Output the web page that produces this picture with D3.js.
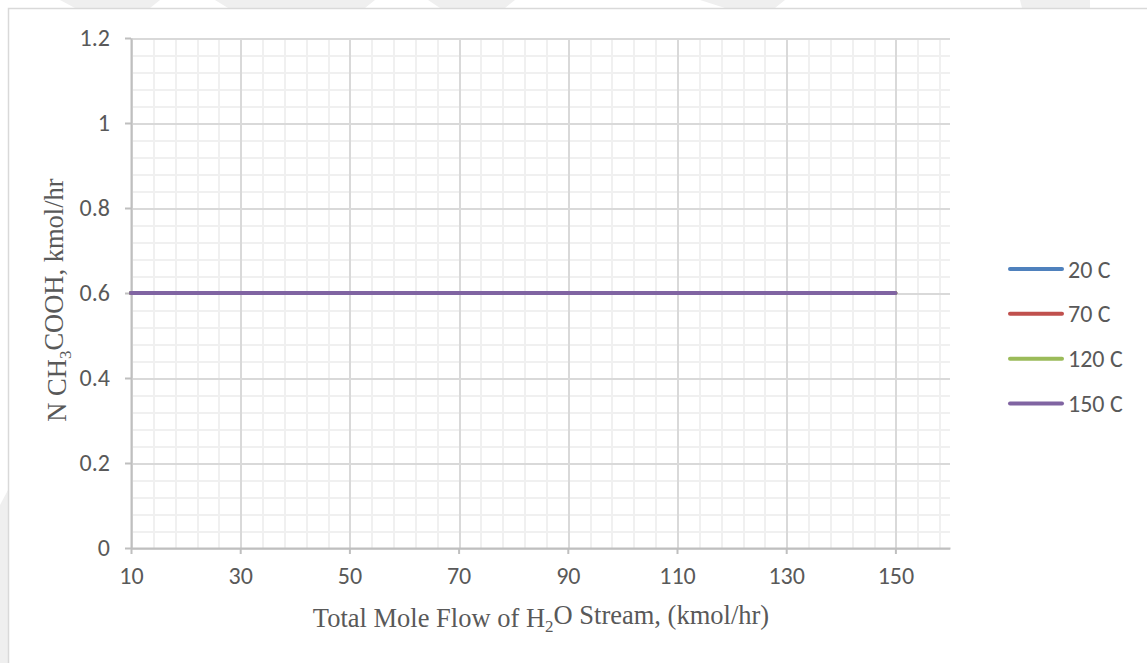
<!DOCTYPE html>
<html>
<head>
<meta charset="utf-8">
<script src="https://cdn.jsdelivr.net/npm/d3@7"></script>
<style>
  html, body { margin: 0; padding: 0; background: #fff; }
  svg { display: block; }
</style>
</head>
<body>
<svg id="chart" width="1147" height="663"></svg>
<script>
// Mole flow of the H2O stream (kmol/hr)
const flowH2O = [10, 30, 50, 70, 90, 110, 130, 150];
// Acetic acid flow (kmol/hr) for each stream temperature
const acid20C  = [0.6, 0.6, 0.6, 0.6, 0.6, 0.6, 0.6, 0.6];
const acid70C  = [0.6, 0.6, 0.6, 0.6, 0.6, 0.6, 0.6, 0.6];
const acid120C = [0.6, 0.6, 0.6, 0.6, 0.6, 0.6, 0.6, 0.6];
const acid150C = [0.6, 0.6, 0.6, 0.6, 0.6, 0.6, 0.6, 0.6];
const seriesNames = ["20 C", "70 C", "120 C", "150 C"];
const xTickValues = [10, 30, 50, 70, 90, 110, 130, 150];
const yTickValues = [0, 0.2, 0.4, 0.6, 0.8, 1, 1.2];

const series = [
  { name: seriesNames[0], values: acid20C,  color: "#4F81BD" },
  { name: seriesNames[1], values: acid70C,  color: "#C0504D" },
  { name: seriesNames[2], values: acid120C, color: "#9BBB59" },
  { name: seriesNames[3], values: acid150C, color: "#8064A2" }
];

const svg = d3.select("#chart");
const tickFont = "Calibri, Carlito, 'Open Sans', sans-serif";
const titleFont = "'Times New Roman', 'Liberation Serif', serif";
const textColor = "#595959";
const tickSize = "24px";

// faint background watermark bands
const wm = svg.append("g").attr("fill", "#efefef");
[
  [[60,0],[160,0],[150,8],[75,8]],
  [[215,0],[375,0],[365,8],[228,8]],
  [[428,0],[515,0],[505,8],[440,8]],
  [[700,0],[785,0],[775,8],[725,8]],
  [[1020,0],[1090,0],[1090,8],[1022,8]]
].forEach(p => wm.append("polygon").attr("points", p.map(q => q.join(",")).join(" ")));
wm.append("polygon").attr("points", "0,505 8,490 8,663 0,663");

// chart frame
svg.append("path")
  .attr("d", "M8.5,663 L8.5,8.5 L1147,8.5")
  .attr("fill", "none").attr("stroke", "#d9d9d9").attr("stroke-width", 1.5);

const plot = { left: 131, top: 38, right: 950, bottom: 548 };

const x = d3.scaleLinear().domain([10, 160]).range([plot.left, plot.right]);
const y = d3.scaleLinear().domain([0, 1.2]).range([plot.bottom, plot.top]);

const grid = svg.append("g").attr("shape-rendering", "crispEdges");

// minor gridlines
const xMinor = d3.range(10, 160.001, 4);
const yMinor = d3.range(0, 1.2001, 0.04);
grid.selectAll(".xmin").data(xMinor).join("line")
  .attr("x1", d => Math.round(x(d)) + 0.5).attr("x2", d => Math.round(x(d)) + 0.5)
  .attr("y1", plot.top).attr("y2", plot.bottom)
  .attr("stroke", "#f0f0f0").attr("stroke-width", 2);
grid.selectAll(".ymin").data(yMinor).join("line")
  .attr("y1", d => Math.round(y(d)) + 0.5).attr("y2", d => Math.round(y(d)) + 0.5)
  .attr("x1", plot.left).attr("x2", plot.right)
  .attr("stroke", "#f0f0f0").attr("stroke-width", 2);

// major gridlines
grid.selectAll(".xmaj").data(xTickValues).join("line")
  .attr("x1", d => Math.round(x(d)) + 0.5).attr("x2", d => Math.round(x(d)) + 0.5)
  .attr("y1", plot.top).attr("y2", plot.bottom)
  .attr("stroke", "#d9d9d9").attr("stroke-width", 2);
grid.selectAll(".ymaj").data(yTickValues).join("line")
  .attr("y1", d => Math.round(y(d)) + 0.5).attr("y2", d => Math.round(y(d)) + 0.5)
  .attr("x1", plot.left).attr("x2", plot.right)
  .attr("stroke", "#d9d9d9").attr("stroke-width", 2);

// axes
const xAxis = d3.axisBottom(x).tickValues(xTickValues).tickSize(6).tickSizeOuter(0).tickPadding(13)
  .tickFormat(d3.format("d"));
const yAxis = d3.axisLeft(y).tickValues(yTickValues).tickSize(6).tickSizeOuter(0).tickPadding(15)
  .tickFormat(d => d === 0 ? "0" : d3.format("~g")(d));

const gx = svg.append("g").attr("transform", `translate(0,${plot.bottom})`).call(xAxis);
const gy = svg.append("g").attr("transform", `translate(${plot.left},0)`).call(yAxis);
[gx, gy].forEach(g => {
  g.select(".domain").attr("stroke", "#bfbfbf").attr("stroke-width", 2);
  g.selectAll(".tick line").attr("stroke", "#bfbfbf").attr("stroke-width", 2);
  g.selectAll(".tick text").attr("fill", textColor)
    .style("font-family", tickFont).style("font-size", tickSize);
});
gx.selectAll(".tick text").attr("dy", "0.72em");

// series lines
const line = d3.line().x((d, i) => x(flowH2O[i])).y(d => y(d));
svg.append("g").selectAll("path").data(series).join("path")
  .attr("d", s => line(s.values))
  .attr("fill", "none").attr("stroke", s => s.color)
  .attr("stroke-width", 4).attr("stroke-linecap", "round");

// axis titles
const yTitle = svg.append("text")
  .attr("transform", "translate(66,300) rotate(-90)")
  .attr("text-anchor", "middle").attr("fill", textColor)
  .style("font-family", titleFont).style("font-size", "26.5px");
yTitle.append("tspan").text("N CH");
yTitle.append("tspan").text("3").attr("dy", "0.3em").style("font-size", "17px");
yTitle.append("tspan").text("COOH, kmol/hr").attr("dy", "-0.3em");

const xTitle = svg.append("text")
  .attr("x", 541).attr("y", 627)
  .attr("text-anchor", "middle").attr("fill", textColor)
  .style("font-family", titleFont).style("font-size", "26.5px");
xTitle.append("tspan").text("Total Mole Flow of H");
xTitle.append("tspan").text("2").attr("dy", "0.3em").style("font-size", "17px");
xTitle.append("tspan").text("O Stream, (kmol/hr)").attr("dy", "-0.3em");

// legend
const legend = svg.append("g");
const legendY = d3.scalePoint().domain(seriesNames).range([269, 403.5]);
const items = legend.selectAll("g").data(series).join("g")
  .attr("transform", s => `translate(0,${legendY(s.name)})`);
items.append("line")
  .attr("x1", 1010).attr("x2", 1062).attr("y1", 0).attr("y2", 0)
  .attr("stroke", s => s.color).attr("stroke-width", 4).attr("stroke-linecap", "round");
items.append("text")
  .attr("x", 1068).attr("y", 0).attr("dy", "0.36em")
  .attr("fill", textColor)
  .style("font-family", tickFont).style("font-size", tickSize)
  .text(s => s.name);
</script>
</body>
</html>
